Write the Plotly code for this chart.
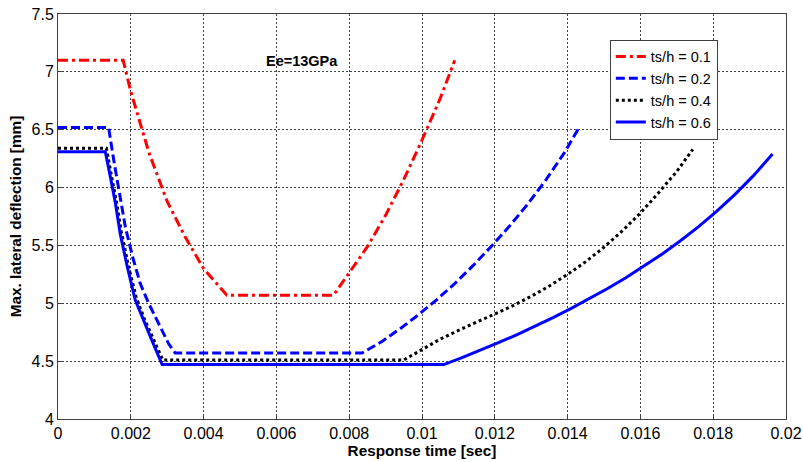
import plotly.graph_objects as go

# ---- data ----
x_01 = [0, 0.00179, 0.0020, 0.0025, 0.0030, 0.0035, 0.0040, 0.0044, 0.00464,
        0.00757, 0.0080, 0.0085, 0.0090, 0.0095, 0.0100, 0.0105, 0.0109]
y_01 = [7.10, 7.10, 6.83, 6.30, 5.88, 5.57, 5.30, 5.15, 5.07,
        5.07, 5.26, 5.49, 5.76, 6.07, 6.41, 6.77, 7.10]

x_02 = [0, 0.00139, 0.00153, 0.00167, 0.00185, 0.00205, 0.00226, 0.00249, 0.0028,
        0.00304, 0.00322, 0.00835, 0.0089, 0.0094, 0.0099, 0.0104, 0.0109, 0.0114,
        0.0119, 0.0124, 0.0129, 0.0134, 0.0139, 0.0143]
y_02 = [6.52, 6.52, 6.24, 5.98, 5.66, 5.40, 5.17, 5.00, 4.80,
        4.65, 4.57, 4.57, 4.67, 4.78, 4.90, 5.03, 5.17, 5.325,
        5.49, 5.665, 5.855, 6.065, 6.295, 6.51]

x_04 = [0, 0.00133, 0.00147, 0.00161, 0.00174, 0.00193, 0.00215, 0.00238, 0.00258,
        0.00288, 0.0095, 0.0100, 0.0105, 0.0110, 0.0115, 0.0120, 0.0125, 0.0130,
        0.0135, 0.0140, 0.0145, 0.0150, 0.0155, 0.0160, 0.0165, 0.0170, 0.01744]
y_04 = [6.34, 6.34, 6.10, 5.87, 5.62, 5.33, 5.05, 4.86, 4.72,
        4.51, 4.51, 4.60, 4.69, 4.765, 4.835, 4.905, 4.98, 5.06,
        5.15, 5.25, 5.36, 5.485, 5.625, 5.78, 5.955, 6.14, 6.33]

x_06 = [0, 0.0013, 0.00144, 0.00158, 0.00171, 0.0019, 0.00212, 0.00235, 0.00254,
        0.00286, 0.0106, 0.0111, 0.0116, 0.0121, 0.0126, 0.0131, 0.0136, 0.0141,
        0.0146, 0.0151, 0.0156, 0.0161, 0.0166, 0.0171, 0.0176, 0.0181, 0.0186,
        0.0191, 0.01963]
y_06 = [6.31, 6.31, 6.09, 5.86, 5.60, 5.32, 5.03, 4.85, 4.71,
        4.47, 4.47, 4.53, 4.593, 4.659, 4.728, 4.800, 4.876, 4.956,
        5.040, 5.128, 5.221, 5.320, 5.426, 5.540, 5.663, 5.796, 5.941,
        6.101, 6.29]

series_names = ["ts/h = 0.1", "ts/h = 0.2", "ts/h = 0.4", "ts/h = 0.6"]

x_tickvals = [0, 0.002, 0.004, 0.006, 0.008, 0.01, 0.012, 0.014, 0.016, 0.018, 0.02]
x_ticktext = ["0", "0.002", "0.004", "0.006", "0.008", "0.01", "0.012", "0.014", "0.016", "0.018", "0.02"]
y_tickvals = [4, 4.5, 5, 5.5, 6, 6.5, 7, 7.5]
y_ticktext = ["4", "4.5", "5", "5.5", "6", "6.5", "7", "7.5"]

annotation_text = "Ee=13GPa"
x_title = "Response time [sec]"
y_title = "Max. lateral deflection [mm]"

FONT = "Arial, 'Liberation Sans', sans-serif"

fig = go.Figure()
fig.add_trace(go.Scatter(x=x_01, y=y_01, mode="lines", name=series_names[0],
                         line=dict(color="#FF0000", width=3, dash="10px,4px,3px,4px")))
fig.add_trace(go.Scatter(x=x_02, y=y_02, mode="lines", name=series_names[1],
                         line=dict(color="#0000FF", width=3, dash="9px,4px")))
fig.add_trace(go.Scatter(x=x_04, y=y_04, mode="lines", name=series_names[2],
                         line=dict(color="#000000", width=3, dash="3px,3px")))
fig.add_trace(go.Scatter(x=x_06, y=y_06, mode="lines", name=series_names[3],
                         line=dict(color="#0000FF", width=3)))

fig.add_annotation(x=0.0067, y=7.09, xref="x", yref="y", text="<b>" + annotation_text + "</b>",
                   showarrow=False, font=dict(family=FONT, size=14.5, color="black"))

axis_common = dict(
    showline=True, linecolor="#404040", linewidth=1, mirror=True,
    showgrid=True, gridcolor="#444444", gridwidth=1, griddash="2px,2px",
    ticks="inside", ticklen=4, tickcolor="#404040",
    zeroline=False, automargin=False,
    tickfont=dict(family=FONT, size=16, color="black"),
)

fig.update_xaxes(range=[0, 0.02], tickvals=x_tickvals, ticktext=x_ticktext,
                 title=dict(text="<b>" + x_title + "</b>", font=dict(family=FONT, size=15.3, color="black"),
                            standoff=2),
                 **axis_common)
fig.update_yaxes(range=[4, 7.5], tickvals=y_tickvals, ticktext=y_ticktext,
                 title=dict(text="<b>" + y_title + "</b>", font=dict(family=FONT, size=15.3, color="black"),
                            standoff=6),
                 **axis_common)

fig.update_layout(
    width=803, height=462,
    margin=dict(l=58, r=17, t=14, b=43),
    plot_bgcolor="white", paper_bgcolor="white",
    font=dict(family=FONT, size=14, color="black"),
    legend=dict(x=0.758, y=0.937, xanchor="left", yanchor="top",
                bgcolor="white", bordercolor="#404040", borderwidth=1,
                font=dict(family=FONT, size=14.5, color="black"),
                itemwidth=30, tracegroupgap=0),
    showlegend=True,
)

fig.write_html("out.html")
